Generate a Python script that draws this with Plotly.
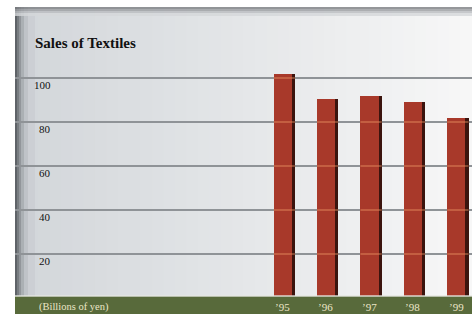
import plotly.graph_objects as go

years = [1995, 1996, 1997, 1998, 1999]
year_labels = ["’95", "’96", "’97", "’98", "’99"]
sales = [102, 90.5, 92, 89, 82]
y_ticks = [20, 40, 60, 80, 100]
y_tick_labels = ["20", "40", "60", "80", "100"]
title_text = "Sales of Textiles"
unit_text = "(Billions of yen)"

W, H = 472, 314
L, T = 15, 7
plot_h = H - T
px_per_unit = 2.2
zero_px = 298
y_top = (zero_px - T) / px_per_unit
y_bot = (zero_px - H) / px_per_unit
spacing = 43.4
c0 = 284.5
x_left = years[0] - (c0 - L) / spacing
x_right = years[0] + (W - c0) / spacing
bar_w, red_w, bar_off = 0.49, 0.42, -0.25

SERIF = "Liberation Serif, Times New Roman, serif"

fig = go.Figure()

fig.add_trace(go.Bar(x=years, y=sales, width=bar_w, offset=bar_off,
                     marker=dict(color="#3b140e", line=dict(width=0)),
                     hoverinfo="skip", showlegend=False))
fig.add_trace(go.Bar(x=years, y=sales, width=red_w, offset=bar_off,
                     marker=dict(color="#a8392a", line=dict(width=0)),
                     showlegend=False))

shapes = []
n = 40
def lerp(a, b, t):
    return int(round(a + (b - a) * t))
for i in range(n):
    t = i / (n - 1)
    c = (lerp(210, 247, t), lerp(214, 247, t), lerp(218, 247, t))
    shapes.append(dict(type="rect", xref="paper", yref="paper",
                       x0=i / n, x1=(i + 1) / n + 0.002, y0=0, y1=1,
                       fillcolor="rgb(%d,%d,%d)" % c, line=dict(width=0),
                       layer="below"))
edge = [(0, 2, 75), (2, 4, 105), (4, 6, 135), (6, 9, 165), (9, 13, 188), (13, 20, 202)]
for a, b, v in edge:
    shapes.append(dict(type="rect", xref="paper", yref="paper",
                       x0=a / (W - L), x1=b / (W - L), y0=0, y1=1,
                       fillcolor="rgba(%d,%d,%d,0.85)" % (v, v + 4, v + 8),
                       line=dict(width=0), layer="below"))
top = [(0, 2, 125), (2, 4, 155), (4, 6, 185), (6, 9, 212)]
for a, b, v in top:
    shapes.append(dict(type="rect", xref="paper", yref="paper",
                       x0=0, x1=1, y0=1 - b / plot_h, y1=1 - a / plot_h,
                       fillcolor="rgba(%d,%d,%d,0.8)" % (v, v + 3, v + 6),
                       line=dict(width=0), layer="below"))
band_top = (H - 296) / plot_h
shapes.append(dict(type="rect", xref="paper", yref="paper", x0=0, x1=1,
                   y0=0, y1=band_top, fillcolor="#586a3b",
                   line=dict(width=0), layer="above"))
shapes.append(dict(type="line", xref="paper", yref="paper", x0=0, x1=1,
                   y0=band_top, y1=band_top,
                   line=dict(color="rgba(230,232,225,0.9)", width=1.5),
                   layer="above"))
for xv, sv in zip(years, sales):
    for v in y_ticks:
        if v < sv:
            shapes.append(dict(type="line", xref="x", yref="y",
                               x0=xv + bar_off, x1=xv + bar_off + bar_w,
                               y0=v, y1=v,
                               line=dict(color="rgba(235,150,100,0.55)", width=1.5),
                               layer="above"))

annotations = [dict(text="<b>" + title_text + "</b>", xref="paper", yref="paper",
                    x=(33 - L) / (W - L), y=1 - (43 - T) / plot_h,
                    xanchor="left", yanchor="middle", showarrow=False,
                    font=dict(family=SERIF, size=15, color="#111111"))]
for v, lab in zip(y_ticks, y_tick_labels):
    annotations.append(dict(text=lab, xref="paper", yref="y",
                            x=(53 - L) / (W - L), y=v, yshift=1,
                            xanchor="right", yanchor="top", showarrow=False,
                            font=dict(family=SERIF, size=11, color="#111111")))
for xv, lab in zip(years, year_labels):
    annotations.append(dict(text=lab, xref="x", yref="paper", x=xv, xshift=-2,
                            y=(H - 307) / plot_h, yanchor="middle",
                            showarrow=False,
                            font=dict(family=SERIF, size=11, color="#ece6c8")))
annotations.append(dict(text=unit_text, xref="paper", yref="paper",
                        x=(37 - L) / (W - L), y=(H - 307) / plot_h,
                        xanchor="left", yanchor="middle", showarrow=False,
                        font=dict(family=SERIF, size=10.5, color="#ece6c8")))

fig.update_layout(
    width=W, height=H,
    margin=dict(l=L, r=0, t=T, b=0),
    paper_bgcolor="white", plot_bgcolor="rgba(0,0,0,0)",
    bargap=0, barmode="overlay",
    shapes=shapes, annotations=annotations,
    xaxis=dict(range=[x_left, x_right], showgrid=False, zeroline=False,
               showticklabels=False, ticks="", fixedrange=True),
    yaxis=dict(range=[y_bot, y_top], tickvals=y_ticks, showticklabels=False,
               showgrid=True, gridcolor="#8f9397", gridwidth=2,
               zeroline=False, ticks="", fixedrange=True),
)

fig.write_html("out.html", config={"displayModeBar": False},
               post_script="document.body.style.margin='0';document.body.style.overflow='hidden';")
